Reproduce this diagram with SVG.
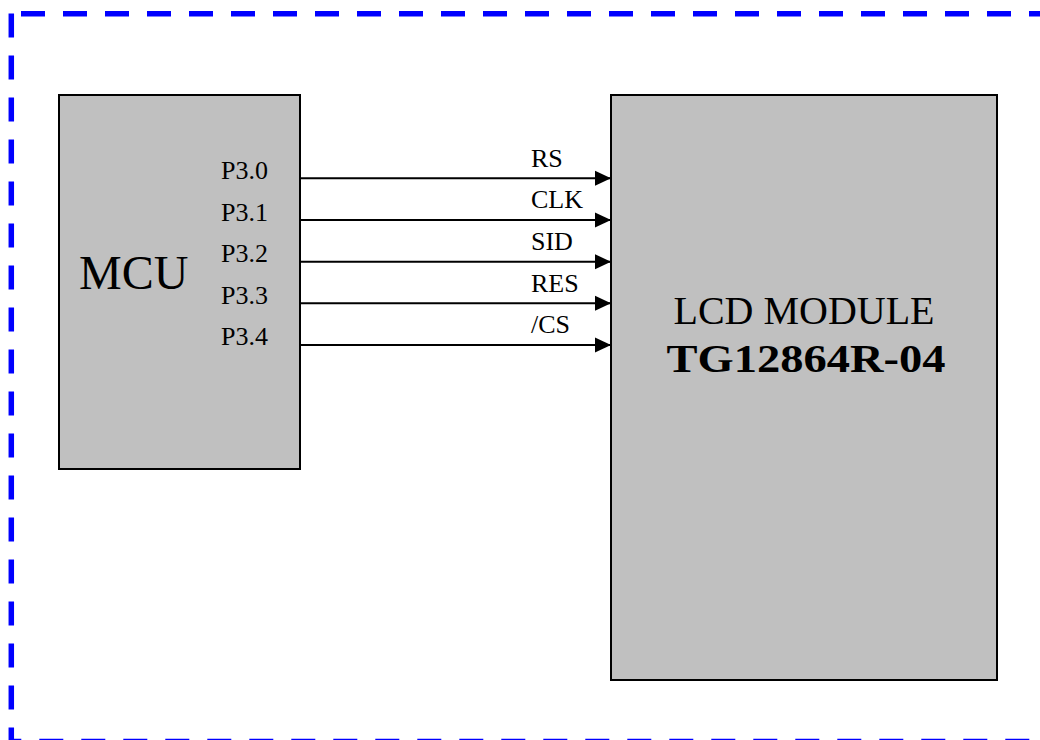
<svg xmlns="http://www.w3.org/2000/svg" width="1040" height="740" viewBox="0 0 1040 740">
<style>
.frame{fill:none;stroke:#0000FF;stroke-width:5.5;stroke-dasharray:24 18}
.box{fill:#C0C0C0;stroke:#000;stroke-width:2}
.wire{stroke:#000;stroke-width:2;fill:none;marker-end:url(#ah)}
.t{font-family:"Liberation Serif","Times New Roman",serif;fill:#000}
.pin{font-size:26px}
.sig{font-size:26px}
</style>
<defs>
<marker id="ah" markerUnits="userSpaceOnUse" markerWidth="16" markerHeight="16" viewBox="0 0 16 16" refX="16" refY="8" orient="auto">
<path d="M0,0.5 L16,8 L0,15.5 Z" fill="#000"/>
</marker>
</defs>
<g id="frame">
<path class="frame" d="M11.3,13.5 V741.5 H1045"/>
<path class="frame" d="M21,13.7 H1045"/>
</g>
<g id="mcu">
<rect class="box" x="59" y="95" width="241" height="374"/>
<text class="t" x="79" y="289" font-size="48">MCU</text>
<text class="t pin" x="221" y="179">P3.0</text>
<text class="t pin" x="221" y="220.5">P3.1</text>
<text class="t pin" x="221" y="262">P3.2</text>
<text class="t pin" x="221" y="303.5">P3.3</text>
<text class="t pin" x="221" y="345">P3.4</text>
</g>
<g id="lcd">
<rect class="box" x="611" y="95" width="386" height="585"/>
<text class="t" x="804" y="324" font-size="40" text-anchor="middle">LCD MODULE</text>
<text class="t" x="806" y="371.5" font-size="40" font-weight="bold" text-anchor="middle" textLength="279" lengthAdjust="spacingAndGlyphs">TG12864R-04</text>
</g>
<g id="connectors">
<line class="wire" x1="300" y1="178.3" x2="611" y2="178.3"/>
<line class="wire" x1="300" y1="220" x2="611" y2="220"/>
<line class="wire" x1="300" y1="261.7" x2="611" y2="261.7"/>
<line class="wire" x1="300" y1="303.3" x2="611" y2="303.3"/>
<line class="wire" x1="300" y1="345" x2="611" y2="345"/>
<text class="t sig" x="531" y="166.5">RS</text>
<text class="t sig" x="531" y="208.3">CLK</text>
<text class="t sig" x="531" y="250">SID</text>
<text class="t sig" x="531" y="291.7">RES</text>
<text class="t sig" x="531" y="333.3">/CS</text>
</g>
</svg>
